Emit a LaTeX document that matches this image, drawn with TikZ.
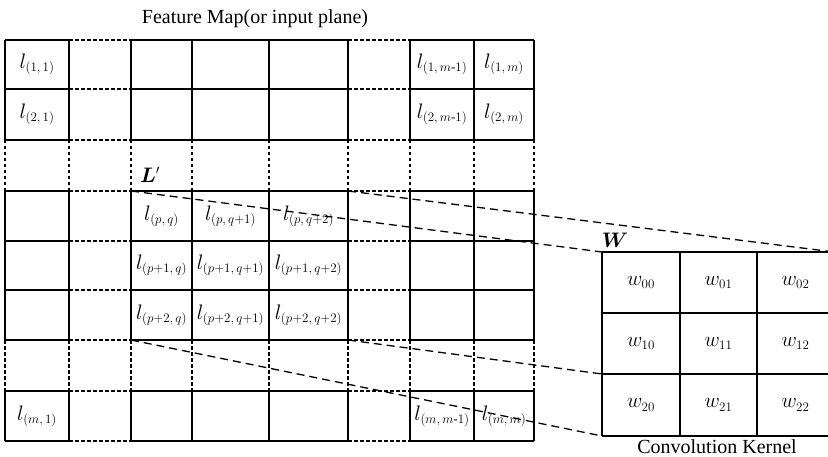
\RequirePackage{fix-cm}
\documentclass[tikz,border=0pt]{standalone}
\usepackage{amsmath,bm}
\usepackage{fontspec}
\setmainfont{Liberation Serif}
\usetikzlibrary{positioning}
\DeclareMathSizes{21}{21}{13}{10}

\begin{document}
\begin{tikzpicture}[x=1pt,y=-1pt,font=\fontsize{21}{24}\selectfont,
  cell/.style={line width=1.3pt},
  gap/.style={line width=1.1pt,dash pattern=on 3.5pt off 2.5pt},
  window/.style={line width=2.6pt},
  kern/.style={line width=1.5pt},
  proj/.style={line width=1.3pt,dash pattern=on 8pt off 5pt},
  caption/.style={font=\fontsize{20}{24}\selectfont,inner sep=1pt}]
  \useasboundingbox (0,0) rectangle (828,457);
  % feature map grid
  \foreach \xa/\xb/\st in {5/69/cell,69/131/gap,131/192/cell,192/269/cell,
      269/348/cell,348/410/gap,410/474/cell,474/534/cell}
    \foreach \y in {40,89,140,191,241,290,340,391,441}
      \draw[\st] (\xa,\y) -- (\xb,\y);
  \foreach \ya/\yb/\st in {40/89/cell,89/140/cell,140/191/gap,191/241/cell,
      241/290/cell,290/340/cell,340/391/gap,391/441/cell}
    \foreach \x in {5,69,131,192,269,348,410,474,534}
      \draw[\st] (\x,\ya) -- (\x,\yb);
  \node[caption] (title) at (255,19) {Feature Map(or input plane)};
  \node (l11) at (37,64.5) {$l_{(1,\,1)}$};
  \node (l21) at (37,114.5) {$l_{(2,\,1)}$};
  \node (l1a) at (442,64.5) {$l_{(1,\,m\text{-}1)}$};
  \node (l1b) at (504,64.5) {$l_{(1,\,m)}$};
  \node (l2a) at (442,114.5) {$l_{(2,\,m\text{-}1)}$};
  \node (l2b) at (504,114.5) {$l_{(2,\,m)}$};
  \node (lma) at (37,416) {$l_{(m,\,1)}$};
  \node (lmb) at (442,416) {$l_{(m,\,m\text{-}1)}$};
  \node (lmc) at (504,416) {$l_{(m,\,m)}$};
  % window L'
  \draw[window] (131,191) coordinate (Ltl) rectangle (348,340) coordinate (Lbr);
  \coordinate (Ltr) at (348,191);
  \coordinate (Lbl) at (131,340);
  \node (Lname) at (150,175) {$\bm{L}'$};
  \node (p00) at (161.5,216) {$l_{(p,\,q)}$};
  \node (p01) at (230.5,216) {$l_{(p,\,q+1)}$};
  \node (p02) at (308.5,216) {$l_{(p,\,q+2)}$};
  \node (p10) at (161.5,265.5) {$l_{(p+1,\,q)}$};
  \node (p11) at (230.5,265.5) {$l_{(p+1,\,q+1)}$};
  \node (p12) at (308.5,265.5) {$l_{(p+1,\,q+2)}$};
  \node (p20) at (161.5,315) {$l_{(p+2,\,q)}$};
  \node (p21) at (230.5,315) {$l_{(p+2,\,q+1)}$};
  \node (p22) at (308.5,315) {$l_{(p+2,\,q+2)}$};
  % kernel W
  \foreach \y in {252,313,374,436}
    \draw[kern] (602,\y) -- (834,\y);
  \foreach \x in {602,680,757,834}
    \draw[kern] (\x,252) -- (\x,436);
  \coordinate (Wtl) at (602,252);
  \coordinate (Wtr) at (834,252);
  \coordinate (Wml) at (602,374);
  \coordinate (Wbl) at (602,436);
  \node (Wname) at (615,240) {$\bm{W}$};
  \foreach \i/\y in {0/282.5,1/343.5,2/405}
    \foreach \j/\x in {0/641,1/718.5,2/795.5}
      \node (w\i\j) at (\x,\y) {$w_{\i\j}$};
  \node[caption,anchor=base] (kname) at (717,453) {Convolution Kernel};
  % projection
  \draw[proj] (Ltl) -- (Wtl);
  \draw[proj] (Ltr) -- (Wtr);
  \draw[proj] (Lbl) -- (Wbl);
  \draw[proj] (Lbr) -- (Wml);
\end{tikzpicture}
\end{document}
